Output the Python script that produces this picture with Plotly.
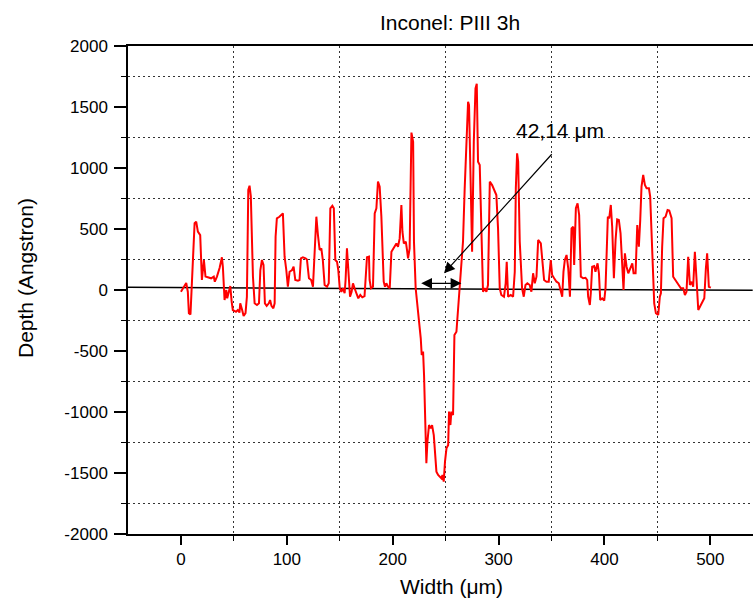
import plotly.graph_objects as go

# ---------------- data ----------------
width_um = [
    0, 5, 6.5, 7.5, 9, 10.7, 12.9, 14.4, 16, 18.2, 19.8, 21.7, 23.2, 25.4, 28.5, 31, 32, 34, 36.5, 38.7,
    39.6, 41.2, 42.8, 43.7, 45.3, 46.6, 47.9, 49, 52, 53.7, 55.3, 56, 57.8, 59.2, 61, 62.3, 63.6, 64.8,
    66, 68, 69.6, 71.8, 73.7, 75, 76.5, 78, 79.3, 81, 83, 84.2, 85.5, 87.3, 88.5, 89.4, 90.6, 93,
    96.3, 97.9, 99.5, 101, 102.6, 105, 106.4, 108, 110.5, 112, 113.3, 115.2, 117.7, 119, 120.9, 123,
    124.7, 126.3, 127.9, 129.4, 131, 132.6, 134, 135.7, 138, 139.6, 141.1, 143, 144.4, 145.8, 147.4,
    148.6, 150, 151.5, 153, 154.6, 155.5, 156.8, 158.4, 159.7, 161.2, 162.5, 164, 165.7, 167.5, 169.4,
    171.3, 173.4, 174.4, 175.7, 177.6, 178.2, 179.5, 181.4, 183, 184.6, 186.1, 187.7, 189.3, 190.2,
    191.5, 192.7, 194, 195.5,
    197.2, 198.8, 201, 203.5, 205, 206.6, 208.2, 209.2, 210.5, 212.4, 213.5, 214.5, 216, 217.7, 219.3,
    220.1, 221.7, 223, 224.9, 226.5, 227.4, 228.7, 229.6, 230.5, 231.8, 232.8, 234.3, 235.9, 237.2,
    238.8, 240, 241.3, 242.9, 244.4, 246, 247, 248.2, 249.4, 250.8, 252.4, 253.2, 254.5, 255.4, 257,
    258.3, 260.2, 261.7, 263.3, 264.9, 266.4, 268, 269.6, 271.2,
    272.1, 273.4, 275, 276.6, 278.2, 279.4, 280.6, 282.2, 283.8, 285.3, 286.9, 288.5, 290, 291.7,
    293.9, 295.7, 297.9, 299.5, 301.1, 302.6, 305.1, 306.7, 307.7, 309, 311.5, 313.7, 315.3, 316.3,
    317.5, 318.5, 320, 322.2, 323.8, 325.4, 327.2, 329.4, 331, 332.6, 334.2, 335.8, 337.4, 339.9,
    341.5, 343, 345.2, 347.4, 349.3, 350.6, 352.5, 354.7, 356.9, 358.8, 360.1, 361.3, 362.6, 364.2,
    365.8, 367.4, 368.9, 370.5, 371.4, 373, 374.6, 376.1, 376.9,
    377.7, 379.9, 382.1, 383.7, 384.6, 386.2, 387.1, 388.4, 390.3, 391.5, 393.5, 394.8, 396, 397.9,
    399.8, 401, 402.3, 403.2, 404.5, 406, 407.3, 408.9, 410.5, 412, 413.6, 415.2, 416.7, 418, 419.3,
    420.9, 422.5, 424, 426.3, 427.5, 429.4, 431, 432.5, 433.8, 435, 436.6, 438.2, 439.8, 442, 443.2,
    444.5, 446, 447, 448.6, 450.8, 452.3, 453.3, 454.5, 455.8, 457.7, 459.6, 461.2, 463.4, 464.9,
    467.1, 469.6, 472.2, 474.4, 476, 477.5, 479.1, 480.7, 482.3, 483.8, 485.4, 487, 488.6, 490.2,
    492.4, 494.3, 495.8, 497, 498.6, 500.5,
]
depth_angstrom = [
    -14, 57, -14, -190, -200, 110, 548, 560, 478, 450, 82, 246, 110, 104, 96, 110, 68, 110, 180, 268,
    190, -82, 0, -68, -14, 33, -95, -164, -178, -164, -185, -109, -164, -213, -190, -55, 820, 855,
    770, 110, -109, -123, -109, 164, 246, 205, -109, -130, -109, -82, -130, -150, -109, 437, 588, 600,
    628, 273, 164, 27, 150, 164, 191, 82, 77, 82, 260, 268, 260, 250, 96, 82,
    27, 300, 601, 450, 328, 341, 246, 41, 27, 55, 670, 690, 670, 246, 232,
    164, 14, -14, 14, -27, 82, 341, 110, -55, -14, 55, 14, -27, -68, -41,
    -60, -50, 82, 268, 273, 82, 14, 27, 628, 670, 888, 847, 601, 300,
    68, 27, 55, 27,
    14, 314, 346, 382, 355, 423, 697, 478, 382, 396, 328, 260, 341, 1290, 1215,
    396, 14, -96, -260, -396, -533, -505, -697, -1080, -1420, -1243, -1107, -1134, -1107,
    -1189, -1325, -1489, -1516, -1530, -1544, -1516, -1571, -1407, -1298, -1271, -997, -1107, -997, -1025,
    -369, -342, -150, 68, 232, 396, 833, 1134, 1543,
    1516, 806, 314, 1216, 1653, 1690, 1052, 1025, 396, -14, 14, -14, 41, 888,
    860, 820, 778, 505, 14, -41, -55, 55, 232, -55, -41, -55, 150, 833,
    1120, 1052, 396, 14, -55, 41, 55, 41, -14, 137, 55, 109, 410, 382,
    232, 82, 68, 68, 246, 123, 96, 68, 55, 0, -55, 150, 246, 287,
    178, -55, 505, 519, 205, 670, 710, 615, 382,
    109, 96, 100, 82, -55, -123, -27, 191, 196, 150, 219, 137, -82, -68,
    -87, 14, 382, 601, 587, 697, 519, 96, 410, 579, 574, 464, 219, 0, 300,
    191, 137, 164, 219, 137, 137, 533, 355, 574, 847, 943, 861, 833, 833, 765,
    492, 55, -109, -191, -205, -55, -27, 355, 588, 601, 656, 651, 588, 109,
    82, 41, 14, 14, -41, -14, 273, 41, 68, 27, 314, 82, -164, -137,
    -96, -68, 178, 300, 27, 20,
]

baseline_x = [-50, 540]
baseline_y = [22, -3]

x_tick_vals = [0, 100, 200, 300, 400, 500]
x_tick_text = ["0", "100", "200", "300", "400", "500"]
x_minor_vals = [50, 150, 250, 350, 450]
y_tick_vals = [-2000, -1500, -1000, -500, 0, 500, 1000, 1500, 2000]
y_tick_text = ["-2000", "-1500", "-1000", "-500", "0", "500", "1000", "1500", "2000"]
y_minor_vals = [-1750, -1250, -750, -250, 250, 750, 1250, 1750]

title_text = "Inconel: PIII 3h"
x_title = "Width (μm)"
y_title = "Depth (Angstron)"
width_label = "42,14 μm"
label_pos = (358, 1307)
pointer_tail = (351.5, 1125)
pointer_head = (248.5, 137)
span_start = (225.5, 55)
span_end = (264.9, 55)

FONT = "Liberation Sans, Arial, Helvetica, sans-serif"

fig = go.Figure()
fig.add_trace(go.Scatter(x=baseline_x, y=baseline_y, mode="lines",
                         line=dict(color="black", width=1.5), hoverinfo="skip", showlegend=False))
fig.add_trace(go.Scatter(x=width_um, y=depth_angstrom, mode="lines",
                         line=dict(color="#ff0000", width=2), showlegend=False))

grid_dash = "2px,3px"
fig.update_xaxes(
    range=[-50, 540.3], showline=True, linecolor="black", linewidth=1.5, mirror=True,
    tickmode="array", tickvals=x_tick_vals, ticktext=x_tick_text,
    ticks="outside", ticklen=9, tickwidth=1.5, tickcolor="black",
    showgrid=False, zeroline=False,
    tickfont=dict(family=FONT, size=17, color="black"),
    minor=dict(tickmode="array", tickvals=x_minor_vals, ticks="outside", ticklen=5,
               tickwidth=1.2, tickcolor="black", showgrid=True, gridcolor="#333333",
               gridwidth=1, griddash=grid_dash),
)
fig.update_yaxes(
    range=[-2000, 2000], showline=True, linecolor="black", linewidth=1.5, mirror=False,
    tickmode="array", tickvals=y_tick_vals, ticktext=y_tick_text,
    ticks="outside", ticklen=12, tickwidth=1.5, tickcolor="black",
    showgrid=False, zeroline=False, ticklabelstandoff=3,
    tickfont=dict(family=FONT, size=17, color="black"),
    minor=dict(tickmode="array", tickvals=y_minor_vals, ticks="outside", ticklen=5,
               tickwidth=1.2, tickcolor="black", showgrid=True, gridcolor="#333333",
               gridwidth=1, griddash=grid_dash),
)

annots = [
    dict(text=title_text, xref="paper", yref="paper", x=0.5147, y=1.049,
         xanchor="center", yanchor="middle", showarrow=False,
         font=dict(family=FONT, size=21, color="black")),
    dict(text=x_title, xref="paper", yref="paper", x=0.5168, y=-0.1086,
         xanchor="center", yanchor="middle", showarrow=False,
         font=dict(family=FONT, size=21, color="black")),
    dict(text=y_title, xref="paper", yref="paper", x=-0.1632, y=0.5246, textangle=-90,
         xanchor="center", yanchor="middle", showarrow=False,
         font=dict(family=FONT, size=21, color="black")),
    dict(text=width_label, xref="x", yref="y", x=label_pos[0], y=label_pos[1],
         xanchor="center", yanchor="middle", showarrow=False,
         font=dict(family=FONT, size=21, color="black")),
    dict(text="", xref="x", yref="y", axref="x", ayref="y",
         x=pointer_head[0], y=pointer_head[1], ax=pointer_tail[0], ay=pointer_tail[1],
         showarrow=True, arrowhead=2, arrowsize=1.8, arrowwidth=1.2, arrowcolor="black",
         standoff=0, startstandoff=0),
    dict(text="", xref="x", yref="y", axref="x", ayref="y",
         x=span_end[0], y=span_end[1], ax=span_start[0], ay=span_start[1],
         showarrow=True, arrowhead=2, startarrowhead=2, arrowside="end+start",
         arrowsize=1.8, startarrowsize=1.8, arrowwidth=1.2, arrowcolor="black",
         standoff=0, startstandoff=0),
]
fig.update_layout(
    width=753, height=606, autosize=False,
    margin=dict(l=128, r=0, t=46, b=72, pad=0),
    paper_bgcolor="white", plot_bgcolor="white",
    annotations=annots,
    font=dict(family=FONT, color="black"),
)

fig.write_html("out.html")
